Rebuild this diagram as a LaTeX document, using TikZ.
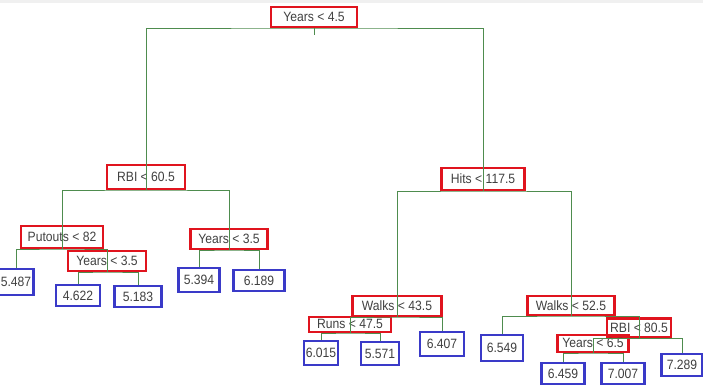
\documentclass[tikz,border=0pt]{standalone}
\usepackage{fontspec}
\setmainfont{Liberation Sans}[FakeStretch=0.9]
\usepackage{tikz}
\definecolor{splitred}{HTML}{E0141E}
\definecolor{leafblue}{HTML}{3A3AC8}
\definecolor{branchgreen}{HTML}{4E8C4E}
\definecolor{labelgray}{HTML}{404040}

\begin{document}
\begin{tikzpicture}[x=1pt,y=-1pt,
    split/.style={draw=splitred,line width=2.4pt,anchor=south,inner sep=0pt,text=labelgray,font=\fontsize{13.5}{15}\selectfont},
    leaf/.style={draw=leafblue,line width=2.4pt,anchor=north,inner sep=0pt,text=labelgray,font=\fontsize{13.5}{15}\selectfont},
    branch/.style={draw=branchgreen,line width=1pt}]
        \fill[gray!12] (0,0) rectangle (703,3);
        \useasboundingbox (0,0) rectangle (703,386);
        % splits
        \node[split,minimum width=86pt,minimum height=20pt] (yrs1) at (314,28) {Years < 4.5};
        \node[split,minimum width=78pt,minimum height=24pt] (rbi1) at (146,190) {RBI < 60.5};
        \node[split,minimum width=83pt,minimum height=22pt] (hits) at (483,191) {Hits < 117.5};
        \node[split,minimum width=82pt,minimum height=22pt] (put) at (62,249) {Putouts < 82};
        \node[split,minimum width=78pt,minimum height=20pt] (yrs2) at (107,272) {Years < 3.5};
        \node[split,minimum width=77pt,minimum height=20pt] (yrs3) at (229,250) {Years < 3.5};
        \node[split,minimum width=89pt,minimum height=20pt] (wlk1) at (397,317) {Walks < 43.5};
        \node[split,minimum width=82pt,minimum height=15pt] (runs) at (350,333) {Runs < 47.5};
        \node[split,minimum width=87pt,minimum height=19pt] (wlk2) at (571,316) {Walks < 52.5};
        \node[split,minimum width=64pt,minimum height=19pt] (rbi2) at (639,338.5) {RBI < 80.5};
        \node[split,minimum width=71pt,minimum height=17pt] (yrs4) at (593,353) {Years < 6.5};
        % leaves
        \node[leaf,minimum width=35pt,minimum height=26pt] (l1) at (16,268) {5.487};
        \node[leaf,minimum width=44pt,minimum height=21pt] (l2) at (78,284) {4.622};
        \node[leaf,minimum width=47pt,minimum height=21pt] (l3) at (138,285) {5.183};
        \node[leaf,minimum width=41pt,minimum height=24pt] (l4) at (199,267) {5.394};
        \node[leaf,minimum width=51pt,minimum height=21pt] (l5) at (259,269) {6.189};
        \node[leaf,minimum width=34pt,minimum height=24pt] (l6) at (321,340) {6.015};
        \node[leaf,minimum width=38pt,minimum height=23pt] (l7) at (380,341) {5.571};
        \node[leaf,minimum width=44pt,minimum height=24pt] (l8) at (442,331) {6.407};
        \node[leaf,minimum width=42pt,minimum height=26pt] (l9) at (502,334) {6.549};
        \node[leaf,minimum width=43pt,minimum height=21pt] (l10) at (563,362) {6.459};
        \node[leaf,minimum width=43pt,minimum height=21pt] (l11) at (623,362) {7.007};
        \node[leaf,minimum width=41pt,minimum height=22pt] (l12) at (682,353) {7.289};
        % branches
        \draw[branch] (yrs1.south) -- ++(0,7);
        \draw[branch] (rbi1.south) |- (yrs1.south) -| (hits.south);
        \draw[branch] (put.south) |- (rbi1.south) -| (yrs3.south);
        \draw[branch] (l1.north) |- (put.south) -| (yrs2.south);
        \draw[branch] (l2.north) |- (yrs2.south) -| (l3.north);
        \draw[branch] (l4.north) |- (yrs3.south) -| (l5.north);
        \draw[branch] (wlk1.south) |- (hits.south) -| (wlk2.south);
        \draw[branch] (runs.south) |- (wlk1.south) -| (l8.north);
        \draw[branch] (l6.north) |- (runs.south) -| (l7.north);
        \draw[branch] (l9.north) |- (wlk2.south) -| (rbi2.south);
        \draw[branch] (yrs4.south) |- (rbi2.south) -| (l12.north);
        \draw[branch] (l10.north) |- (yrs4.south) -| (l11.north);
\end{tikzpicture}
\end{document}
